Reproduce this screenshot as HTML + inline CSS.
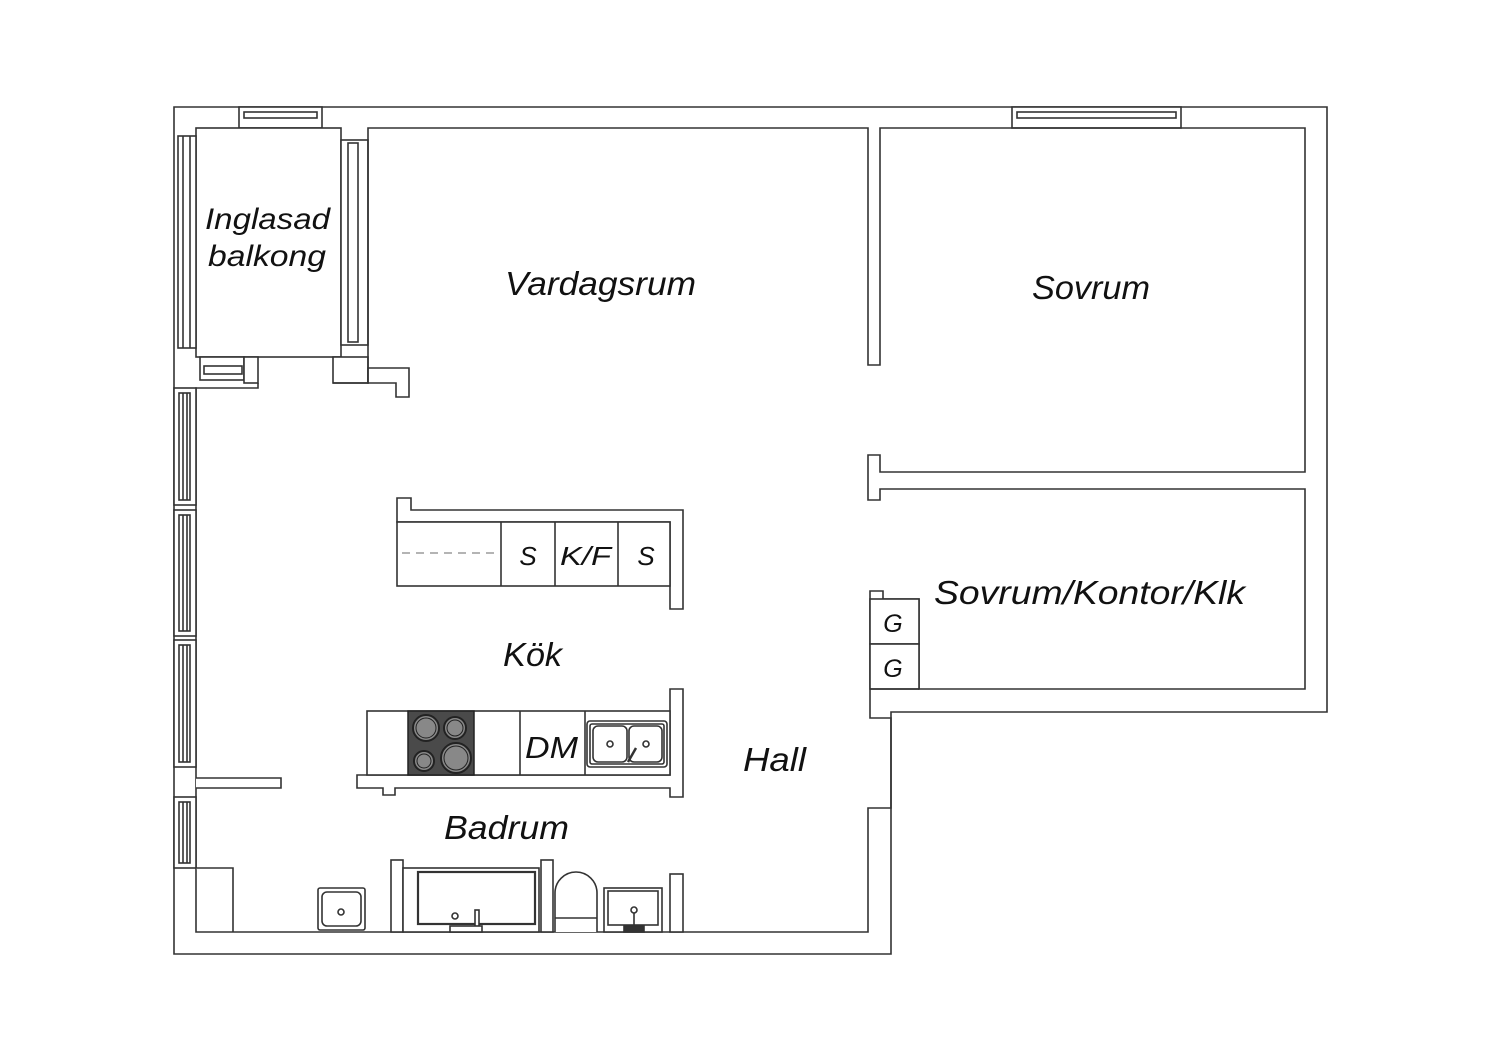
<!DOCTYPE html>
<html><head><meta charset="utf-8"><style>
html,body{margin:0;padding:0;background:#fff;}
svg{display:block}
text{font-family:"Liberation Sans",sans-serif;font-style:italic;fill:#111;}
</style></head><body>
<svg width="1500" height="1060" viewBox="0 0 1500 1060" xmlns="http://www.w3.org/2000/svg">
<g fill="#fff" stroke="#333" stroke-width="1.6">
<path d="M174,107 H1327 V712 H891 V954 H174 Z"/>
<rect x="239" y="107" width="83" height="21"/>
<rect x="244" y="112" width="73" height="6"/>
<rect x="1012" y="107" width="169" height="21"/>
<rect x="1017" y="112" width="159" height="6"/>
<rect x="196" y="128" width="145" height="229"/>
<rect x="178" y="136" width="18" height="212"/><line x1="183" y1="136" x2="183" y2="348"/><line x1="190" y1="136" x2="190" y2="348"/>
<rect x="341" y="140" width="27" height="205"/><rect x="348" y="143" width="10" height="199"/>
<rect x="200" y="357" width="44" height="23"/><rect x="204" y="366" width="38" height="8"/>
<rect x="244" y="357" width="14" height="26"/>
<rect x="333" y="357" width="35" height="26"/>
<path d="M368,368 H409 V397 H396 V383 H368 Z"/>
<path d="M333,383 H368 V128 H868 V365 H880 V128 H1305 V472 H880 V455 H868 V500 H880 V489 H1305 V689 H919 V599 H883 V591 H870 V718 H891 V808 H868 V932 H196 V388 H258 V383" fill="none"/>
<g>
<rect x="174" y="388" width="22" height="117"/><rect x="179" y="393" width="11" height="107"/><line x1="183" y1="393" x2="183" y2="500"/><line x1="187" y1="393" x2="187" y2="500"/>
<rect x="174" y="510" width="22" height="126"/><rect x="179" y="515" width="11" height="116"/><line x1="183" y1="515" x2="183" y2="631"/><line x1="187" y1="515" x2="187" y2="631"/>
<rect x="174" y="640" width="22" height="127"/><rect x="179" y="645" width="11" height="117"/><line x1="183" y1="645" x2="183" y2="762"/><line x1="187" y1="645" x2="187" y2="762"/>
<rect x="174" y="797" width="22" height="71"/><rect x="179" y="802" width="11" height="61"/><line x1="183" y1="802" x2="183" y2="863"/><line x1="187" y1="802" x2="187" y2="863"/>
</g>
<rect x="870" y="599" width="49" height="45"/>
<rect x="870" y="644" width="49" height="45"/>
<line x1="870" y1="689" x2="919" y2="689"/>
<path d="M196,778 H281 V788 H196"/>
<path d="M397,498 H411 V510 H683 V609 H670 V522 H397 Z"/>
<rect x="397" y="522" width="273" height="64"/>
<line x1="501" y1="522" x2="501" y2="586"/><line x1="555" y1="522" x2="555" y2="586"/><line x1="618" y1="522" x2="618" y2="586"/>
<line x1="402" y1="553" x2="500" y2="553" stroke="#888" stroke-dasharray="8,6" stroke-width="1.2"/>
<path d="M357,775 H670 V689 H683 V797 H670 V788 H395 V795 H383 V788 H357 Z"/>
<rect x="367" y="711" width="303" height="64"/>
<line x1="520" y1="711" x2="520" y2="775"/><line x1="585" y1="711" x2="585" y2="775"/>
<rect x="587" y="721" width="80" height="46" rx="3"/>
<rect x="590" y="724" width="74" height="40" rx="2"/>
<rect x="593" y="726" width="34" height="36" rx="5"/>
<rect x="629" y="726" width="33" height="36" rx="5"/>
<circle cx="610" cy="744" r="3"/><circle cx="646" cy="744" r="3"/>
<line x1="628" y1="762" x2="636" y2="748" stroke-width="2.5"/>
</g>
<rect x="408" y="711" width="66" height="64" fill="#4a4a4a" stroke="#222" stroke-width="1.5"/>
<g fill="#888" stroke="#222" stroke-width="2">
<circle cx="426" cy="728" r="13"/><circle cx="455" cy="728" r="11"/><circle cx="424" cy="761" r="10"/><circle cx="456" cy="758" r="15"/>
</g>
<g fill="none" stroke="#222" stroke-width="1"><circle cx="426" cy="728" r="10"/><circle cx="455" cy="728" r="8"/><circle cx="424" cy="761" r="7"/><circle cx="456" cy="758" r="12"/></g>
<g fill="#fff" stroke="#333" stroke-width="1.6">
<path d="M196,868 H233 V932"/>
<rect x="318" y="888" width="47" height="42" rx="2"/><rect x="322" y="892" width="39" height="34" rx="5"/><circle cx="341" cy="912" r="3"/>
<rect x="391" y="860" width="12" height="72"/>
<rect x="403" y="868" width="136" height="64"/>
<rect x="418" y="872" width="117" height="52" stroke-width="2.2"/>
<circle cx="455" cy="916" r="3"/>
<rect x="475" y="910" width="4" height="20"/>
<rect x="450" y="926" width="32" height="6"/>
<rect x="541" y="860" width="12" height="72"/>
<path d="M555,932 V893 A21,21 0 0 1 597,893 V932"/>
<line x1="555" y1="918" x2="597" y2="918"/>
<rect x="604" y="888" width="58" height="44"/>
<rect x="608" y="891" width="50" height="34"/>
<line x1="634" y1="910" x2="634" y2="930"/><circle cx="634" cy="910" r="3"/>
<rect x="624" y="926" width="20" height="6" fill="#333"/>
<rect x="670" y="874" width="13" height="58"/>
</g>
<g lengthAdjust="spacingAndGlyphs">
<text x="205" y="229" font-size="30" textLength="125" lengthAdjust="spacingAndGlyphs">Inglasad</text>
<text x="208" y="266" font-size="30" textLength="118" lengthAdjust="spacingAndGlyphs">balkong</text>
<text x="505" y="295" font-size="33" textLength="191" lengthAdjust="spacingAndGlyphs">Vardagsrum</text>
<text x="1032" y="299" font-size="33" textLength="118" lengthAdjust="spacingAndGlyphs">Sovrum</text>
<text x="934" y="604" font-size="33" textLength="311" lengthAdjust="spacingAndGlyphs">Sovrum/Kontor/Klk</text>
<text x="503" y="666" font-size="33" textLength="59" lengthAdjust="spacingAndGlyphs">Kök</text>
<text x="743" y="771" font-size="33" textLength="63" lengthAdjust="spacingAndGlyphs">Hall</text>
<text x="444" y="839" font-size="33" textLength="125" lengthAdjust="spacingAndGlyphs">Badrum</text>
<text x="525" y="758" font-size="31" textLength="53" lengthAdjust="spacingAndGlyphs">DM</text>
</g>
<text x="528" y="565" font-size="26" text-anchor="middle">S</text>
<text x="560" y="565" font-size="26" textLength="51" lengthAdjust="spacingAndGlyphs">K/F</text>
<text x="646" y="565" font-size="26" text-anchor="middle">S</text>
<text x="893" y="632" font-size="25" text-anchor="middle">G</text>
<text x="893" y="677" font-size="25" text-anchor="middle">G</text>
</svg>
</body></html>
